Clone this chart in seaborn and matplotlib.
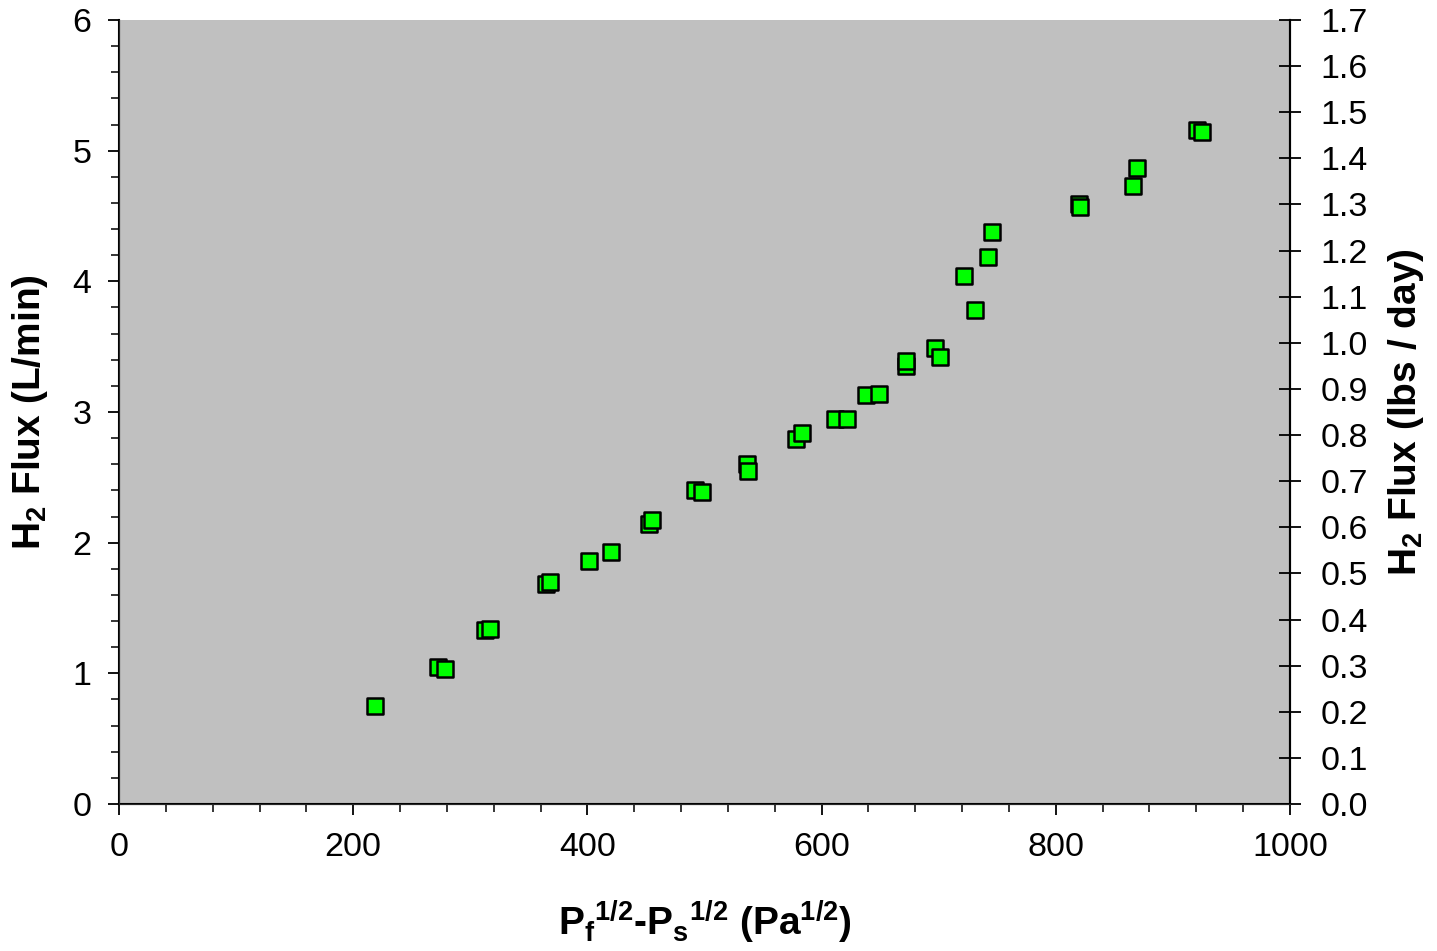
import numpy as np
import pandas as pd
import seaborn as sns
import matplotlib.pyplot as plt
from matplotlib.ticker import MultipleLocator, FormatStrFormatter

# pressure driving force (Pa^1/2) and measured H2 flux (L/min)
drive = [218.6, 272.4, 278.4, 312.6, 316.8, 364.6, 368.1, 401.4, 420.2,
         452.6, 455.2, 491.9, 497.9, 536.3, 537.1, 578.0, 583.3, 611.4,
         621.7, 637.9, 649.0, 672.0, 672.0, 696.8, 701.1, 721.6, 731.0,
         742.0, 745.5, 819.8, 820.7, 866.0, 869.3, 920.6, 924.8]
flux = [0.75, 1.05, 1.03, 1.33, 1.34, 1.68, 1.70, 1.86, 1.93,
        2.14, 2.17, 2.40, 2.39, 2.60, 2.55, 2.79, 2.84, 2.95,
        2.95, 3.13, 3.14, 3.35, 3.39, 3.49, 3.42, 4.04, 3.78,
        4.19, 4.38, 4.59, 4.57, 4.73, 4.87, 5.16, 5.14]

x_ticks = [0, 200, 400, 600, 800, 1000]
left_ticks = [0, 1, 2, 3, 4, 5, 6]
right_max = 1.7

df = pd.DataFrame({"drive": drive, "flux": flux})

sns.set_style("ticks")
plt.rcParams["font.family"] = ["Liberation Sans", "DejaVu Sans"]
plt.rcParams["mathtext.fontset"] = "custom"
plt.rcParams["mathtext.rm"] = "Liberation Sans"
plt.rcParams["mathtext.bf"] = "Liberation Sans:bold"
plt.rcParams["text.color"] = "black"
plt.rcParams["axes.labelcolor"] = "black"

fig = plt.figure(figsize=(14.37, 9.51), dpi=100)
ax = fig.add_axes([119 / 1437, 1 - 804 / 951, (1290 - 119) / 1437, (804 - 20) / 951])
ax.set_facecolor("#c0c0c0")

sns.scatterplot(data=df, x="drive", y="flux", ax=ax, marker="s", s=125,
                color="#00ff00", edgecolor="black", linewidth=1.8, zorder=3)

ax.set_xlim(0, 1000)
ax.set_ylim(0, 6)
ax.set_xticks(x_ticks)
ax.set_yticks(left_ticks)
ax.xaxis.set_minor_locator(MultipleLocator(40))
ax.yaxis.set_minor_locator(MultipleLocator(0.2))
ax.tick_params(which="major", direction="out", length=8, width=1.3,
               labelsize=24.5, colors="black", pad=12)
ax.tick_params(which="minor", direction="out", length=6, width=1.1, colors="black")
ax.tick_params(axis="y", pad=12)

for side in ["left", "bottom", "right"]:
    ax.spines[side].set_color("black")
    ax.spines[side].set_linewidth(1.5)
ax.spines["top"].set_visible(False)

ax.set_xlabel(r"$\mathbf{P_f{}^{1/2}}$-$\mathbf{P_s{}^{1/2}}$ ($\mathbf{Pa^{1/2}}$)",
              fontsize=28, fontweight="bold", labelpad=26)
ax.set_ylabel(r"$\mathbf{H_2}$ Flux (L/min)", fontsize=28, fontweight="bold", labelpad=16)

# second scale in lbs/day
ax2 = ax.twinx()
ax2.set_ylim(0, right_max)
ax2.yaxis.set_major_locator(MultipleLocator(0.1))
ax2.yaxis.set_major_formatter(FormatStrFormatter("%.1f"))
ax2.tick_params(axis="y", direction="inout", length=16, width=1.3,
                labelsize=24.5, pad=14, colors="black")
ax2.spines["top"].set_visible(False)
ax2.spines["right"].set_color("black")
ax2.spines["right"].set_linewidth(1.5)
ax2.set_ylabel(r"$\mathbf{H_2}$ Flux (lbs / day)", fontsize=28,
               fontweight="bold", labelpad=13)

fig.savefig("out.png", dpi=100)
